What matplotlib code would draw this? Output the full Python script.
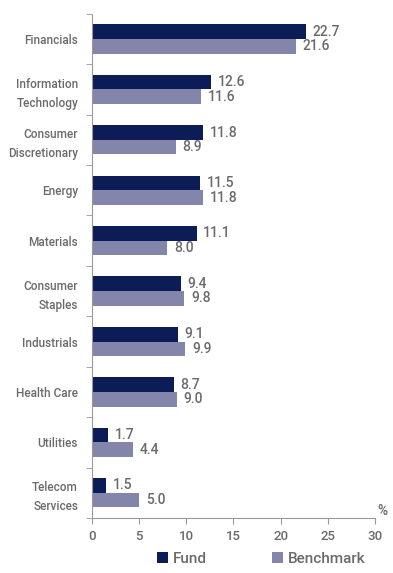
import matplotlib.pyplot as plt
import numpy as np

categories = ["Financials", "Information\nTechnology", "Consumer\nDiscretionary", "Energy",
              "Materials", "Consumer\nStaples", "Industrials", "Health Care",
              "Utilities", "Telecom\nServices"]
fund = [22.7, 12.6, 11.8, 11.5, 11.1, 9.4, 9.1, 8.7, 1.7, 1.5]
benchmark = [21.6, 11.6, 8.9, 11.8, 8.0, 9.8, 9.9, 9.0, 4.4, 5.0]

fund_color = "#0b1c57"
bench_color = "#8385aa"
grey = "#6a6a6a"

plt.rcParams['font.family'] = ['Roboto', 'DejaVu Sans']
plt.rcParams['font.weight'] = 'medium'

fig = plt.figure(figsize=(3.93, 5.73), dpi=100)
ax = fig.add_axes([0.234, 0.096, 0.72, 0.88])

y = np.arange(len(categories))
h = 0.29
ax.barh(y - h / 2, fund, height=h, color=fund_color, label="Fund")
ax.barh(y + h / 2, benchmark, height=h, color=bench_color, label="Benchmark")

for yi, f, b in zip(y, fund, benchmark):
    ax.text(f + 0.7, yi - h / 2, f"{f:.1f}", va="center", ha="left", color=grey, fontsize=10)
    ax.text(b + 0.7, yi + h / 2, f"{b:.1f}", va="center", ha="left", color=grey, fontsize=10)

ax.set_ylim(len(categories) - 0.5, -0.5)
ax.set_xlim(0, 30)
ax.set_xticks([0, 5, 10, 15, 20, 25, 30])
ax.set_yticks(y)
ax.set_yticklabels(categories, fontsize=8.5, color=grey, linespacing=1.6)
ax.set_yticks(np.arange(-0.5, len(categories), 1), minor=True)
ax.tick_params(axis="y", which="major", length=0, pad=10)
ax.tick_params(axis="y", which="minor", length=4, color="#999999")
ax.tick_params(axis="x", length=4, color="#999999", labelcolor=grey, labelsize=9.5, pad=5)

for side in ["top", "right"]:
    ax.spines[side].set_visible(False)
for side in ["left", "bottom"]:
    ax.spines[side].set_color("#999999")

ax.text(1.01, 0.0, "%", transform=ax.transAxes, ha="left", va="bottom", color=grey, fontsize=10)

fig.legend(loc="lower center", bbox_to_anchor=(0.665, -0.012), ncol=2, frameon=False,
           fontsize=11, labelcolor=grey, handlelength=0.7, handleheight=0.7,
           handletextpad=0.3, columnspacing=4.3)

fig.savefig("out.png", dpi=100)
